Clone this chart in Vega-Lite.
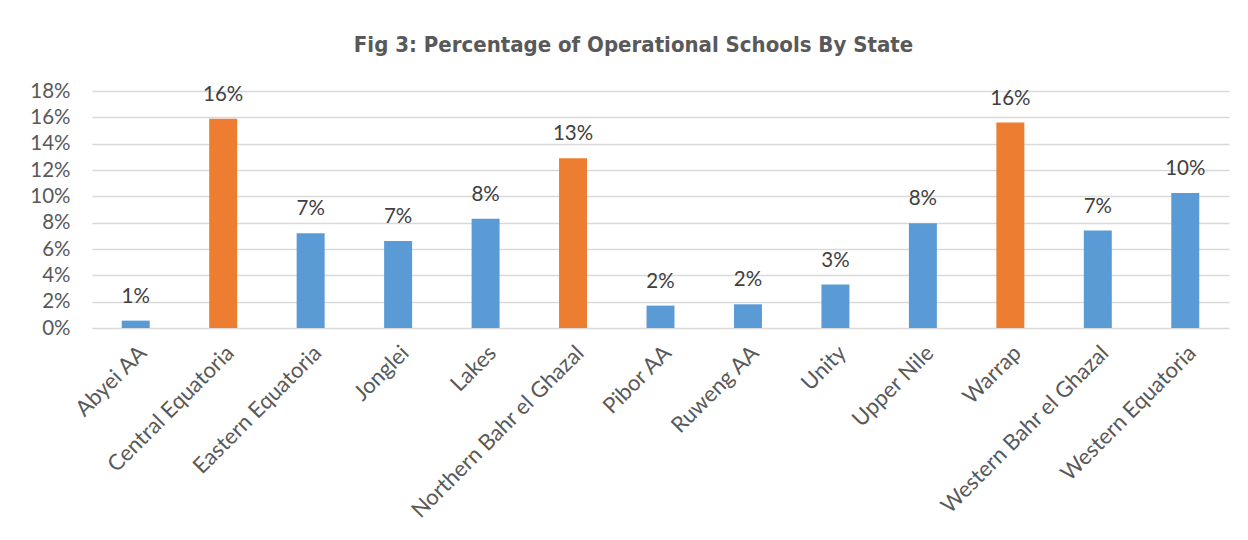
{
  "$schema": "https://vega.github.io/schema/vega-lite/v6.json",
  "width": 1137,
  "height": 237,
  "autosize": {"type": "none"},
  "padding": {"left": 92, "top": 91, "right": 19, "bottom": 212},
  "background": "#ffffff",
  "title": {
    "text": "Fig 3: Percentage of Operational Schools By State",
    "font": "'DejaVu Sans Condensed', 'DejaVu Sans'",
    "fontSize": 22,
    "fontWeight": "bold",
    "color": "#595959",
    "anchor": "middle",
    "dx": -27,
    "offset": 24
  },
  "data": {
    "values": [
      {"state": "Abyei AA", "pct": 0.0056},
      {"state": "Central Equatoria", "pct": 0.159},
      {"state": "Eastern Equatoria", "pct": 0.072},
      {"state": "Jonglei", "pct": 0.066},
      {"state": "Lakes", "pct": 0.083},
      {"state": "Northern Bahr el Ghazal", "pct": 0.129},
      {"state": "Pibor AA", "pct": 0.017},
      {"state": "Ruweng AA", "pct": 0.018},
      {"state": "Unity", "pct": 0.033},
      {"state": "Upper Nile", "pct": 0.0795},
      {"state": "Warrap", "pct": 0.156},
      {"state": "Western Bahr el Ghazal", "pct": 0.074},
      {"state": "Western Equatoria", "pct": 0.1025}
    ]
  },
  "encoding": {
    "x": {
      "field": "state",
      "type": "nominal",
      "sort": null,
      "scale": {"paddingInner": 0.68, "paddingOuter": 0.34},
      "axis": {
        "title": null,
        "labelAngle": -45,
        "labelFont": "Lato",
        "labelFontSize": 22,
        "labelColor": "#595959",
        "labelPadding": 14,
        "labelLimit": 400,
        "ticks": false,
        "domain": false,
        "grid": false
      }
    },
    "y": {
      "field": "pct",
      "type": "quantitative",
      "scale": {"domain": [0, 0.18], "nice": false},
      "axis": {
        "title": null,
        "values": [0, 0.02, 0.04, 0.06, 0.08, 0.1, 0.12, 0.14, 0.16, 0.18],
        "format": ".0%",
        "labelFont": "Lato",
        "labelFontSize": 20.5,
        "labelColor": "#595959",
        "labelPadding": 22,
        "ticks": false,
        "domain": false,
        "grid": true,
        "gridColor": "#d9d9d9",
        "gridWidth": 1.5
      }
    }
  },
  "layer": [
    {
      "mark": {"type": "bar"},
      "encoding": {
        "color": {
          "condition": {"test": "datum.pct >= 0.12", "value": "#ED7D31"},
          "value": "#5B9BD5"
        }
      }
    },
    {
      "mark": {
        "type": "text",
        "baseline": "alphabetic",
        "dy": -18,
        "font": "Lato",
        "fontSize": 20.5,
        "color": "#404040"
      },
      "encoding": {
        "text": {"field": "pct", "type": "quantitative", "format": ".0%"}
      }
    }
  ],
  "config": {
    "view": {"stroke": null}
  }
}
